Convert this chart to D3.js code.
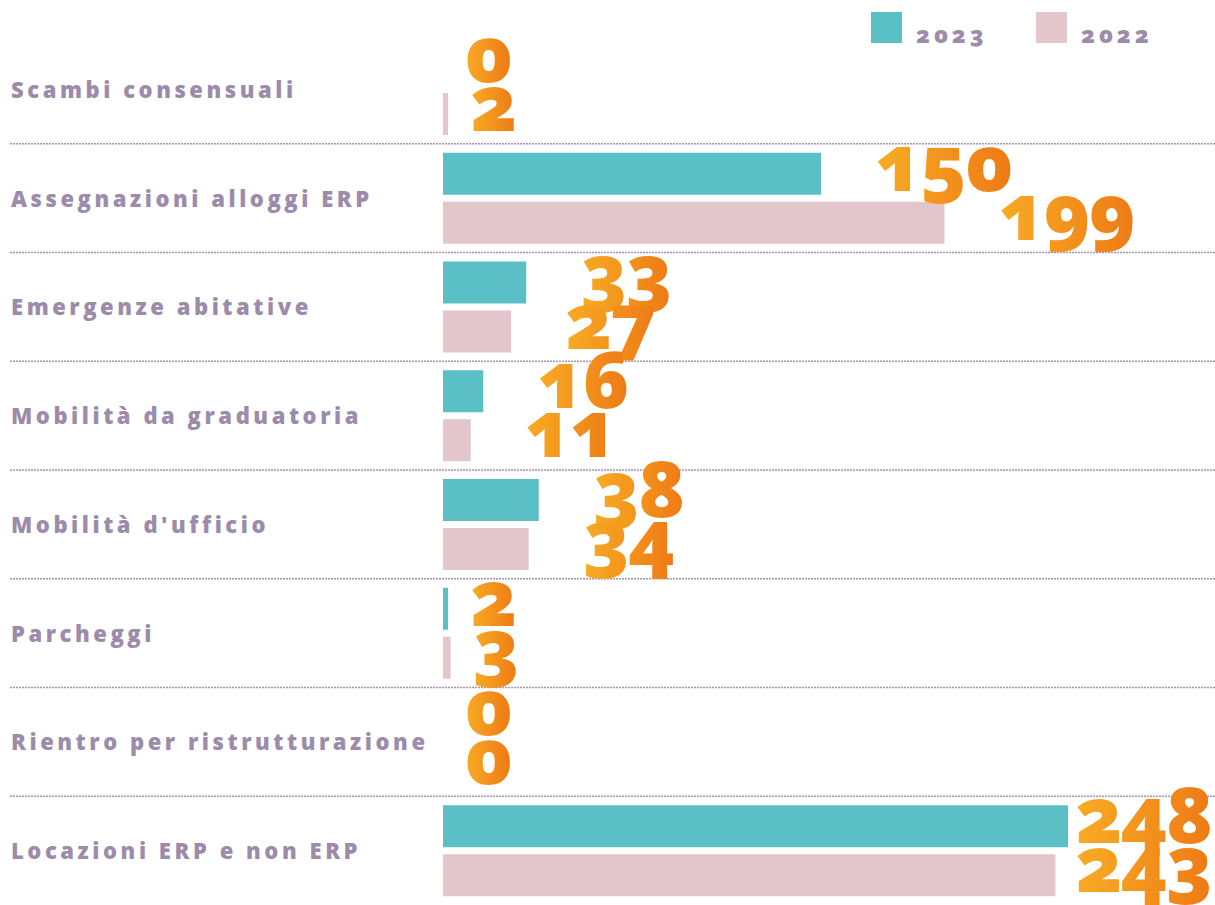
<!DOCTYPE html>
<html>
<head>
<meta charset="utf-8">
<script src="https://cdn.jsdelivr.net/npm/d3@7"></script>
<style>
  html, body { margin: 0; padding: 0; background: #ffffff; }
  svg { display: block; }
  .cat { font-family: "Open Sans", sans-serif; font-weight: 800; fill: #9c8bab; }
  .leg { font-family: "Open Sans", sans-serif; font-weight: 800; fill: #9c8bab; font-feature-settings: "onum" 1; }
  .val { font-family: "Open Sans", sans-serif; font-weight: 800; font-feature-settings: "onum" 1; }
</style>
</head>
<body>
<svg id="chart" width="1215" height="905"></svg>
<script>
// ---- data ----
const categories = [
  "Scambi consensuali",
  "Assegnazioni alloggi ERP",
  "Emergenze abitative",
  "Mobilità da graduatoria",
  "Mobilità d'ufficio",
  "Parcheggi",
  "Rientro per ristrutturazione",
  "Locazioni ERP e non ERP"
];
const series = ["2023", "2022"];
const values2023 = [0, 150, 33, 16, 38, 2, 0, 248];
const values2022 = [2, 199, 27, 11, 34, 3, 0, 243];
const colors = ["#5bbfc6", "#e3c6cc"];

// ---- layout ----
const W = 1215, H = 905;
const svg = d3.select("#chart");

const defs = svg.append("defs");
const grad = defs.append("linearGradient").attr("id", "orangeGrad")
  .attr("x1", "0%").attr("x2", "100%").attr("y1", "0%").attr("y2", "0%");
grad.append("stop").attr("offset", "0%").attr("stop-color", "#f8ac24");
grad.append("stop").attr("offset", "100%").attr("stop-color", "#ee7a15");

const y = d3.scaleBand().domain(categories).range([35, H]).padding(0);
const ySub = d3.scaleBand().domain(series).range([9, 100]).paddingInner(7 / 49).paddingOuter(0);
const x = d3.scaleLinear().domain([0, 248]).range([443, 1068]);

const rows = categories.map((c, i) => ({
  cat: c,
  vals: [{ s: "2023", v: values2023[i] }, { s: "2022", v: values2022[i] }]
}));

// separators (dotted)
svg.append("g").selectAll("line")
  .data(categories.slice(1))
  .join("line")
  .attr("x1", 10).attr("x2", W)
  .attr("y1", d => y(d)).attr("y2", d => y(d))
  .attr("stroke", "#a594b6")
  .attr("stroke-width", 1.3)
  .attr("stroke-dasharray", "2,1");

// category labels
const catText = svg.append("g").selectAll("text")
  .data(categories)
  .join("text")
  .attr("class", "cat")
  .attr("x", 11)
  .attr("y", d => y(d) + y.bandwidth() / 2 + 8.5)
  .style("font-size", "22px")
  .text(d => d);

// letter-spacing chosen so the longest label ends just before the bars
(function () {
  const longest = "Rientro per ristrutturazione";
  const node = catText.filter(d => d === longest).node();
  const w0 = node.getComputedTextLength();
  const ls = Math.max(0, (x(0) - 11 - 18 - w0) / (longest.length - 1));
  catText.style("letter-spacing", ls + "px");
})();

// bars
const rowG = svg.append("g").selectAll("g")
  .data(rows)
  .join("g")
  .attr("transform", d => `translate(0,${y(d.cat)})`);

rowG.selectAll("rect")
  .data(d => d.vals)
  .join("rect")
  .attr("x", x(0))
  .attr("y", d => ySub(d.s))
  .attr("width", d => x(d.v) - x(0))
  .attr("height", ySub.bandwidth())
  .attr("fill", (d, i) => colors[series.indexOf(d.s)]);

// value labels
const valText = rowG.selectAll("text")
  .data(d => d.vals)
  .join("text")
  .attr("class", "val")
  .attr("y", d => ySub(d.s) + ySub.bandwidth() - 4)
  .style("font-size", "78px")
  .style("letter-spacing", "-2px")
  .attr("fill", "url(#orangeGrad)")
  .text(d => d.v);

valText.each(function (d) {
  const len = this.getComputedTextLength();
  const pad = String(d.v).length === 1 ? 22 : 54;
  const xx = Math.min(x(d.v) + pad, W - 4 - len);
  d3.select(this).attr("x", xx);
});

// legend
const legend = svg.append("g").selectAll("g")
  .data(series)
  .join("g")
  .attr("transform", (d, i) => `translate(${871 + i * 165},12)`);
legend.append("rect")
  .attr("width", 31).attr("height", 31)
  .attr("fill", (d, i) => colors[i]);
legend.append("text")
  .attr("class", "leg")
  .attr("x", 45).attr("y", 31)
  .style("font-size", "23px")
  .style("letter-spacing", "4px")
  .text(d => d);
</script>
</body>
</html>
